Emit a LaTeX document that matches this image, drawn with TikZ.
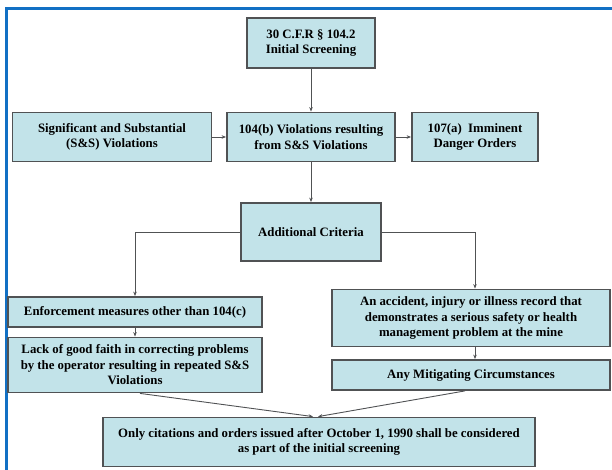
\documentclass[tikz,border=0pt]{standalone}
\usepackage{fontspec}
\setmainfont{Liberation Serif}
\usetikzlibrary{arrows.meta}

\definecolor{boxfill}{RGB}{194,227,233}
\definecolor{boxline}{RGB}{80,82,84}
\definecolor{frameblue}{RGB}{18,112,196}

\tikzset{
  crit box/.style={draw=boxline, line width=1.8pt, fill=boxfill, align=center,
    font=\bfseries\fontsize{12.8}{15.5}\selectfont, inner sep=1pt},
  flow/.style={draw=boxline, line width=0.9pt, -{Stealth[length=4.5pt,width=3.5pt]}}
}

\begin{document}
\begin{tikzpicture}[x=1pt, y=-1pt]
\useasboundingbox (0,0) rectangle (612,470);
% frame
\draw[frameblue, line width=3pt] (6,470) -- (6,8.5) -- (612,8.5);

% boxes
\node[crit box, minimum width=128pt, minimum height=50pt] (screen) at (311,43)
  {30 C.F.R \S\ 104.2\\Initial Screening};
\node[crit box, minimum width=168pt, minimum height=49pt] (viol) at (311,137)
  {104(b) Violations resulting\\from S\&S Violations};
\node[crit box, minimum width=199pt, minimum height=49pt] (ss) at (112,137)
  {Significant and Substantial\\(S\&S) Violations};
\node[crit box, minimum width=126pt, minimum height=49pt] (danger) at (475,137)
  {107(a)\ \ Imminent\\Danger Orders};
\node[crit box, minimum width=140pt, minimum height=58pt] (crit) at (311,232)
  {Additional Criteria};
\node[crit box, minimum width=254pt, minimum height=30pt] (enf) at (135,312)
  {Enforcement measures other than 104(c)};
\node[crit box, minimum width=254pt, minimum height=55pt] (lack) at (135,365)
  {Lack of good faith in correcting problems\\by the operator resulting in repeated S\&S\\Violations};
\node[crit box, minimum width=278pt, minimum height=57pt] (acc) at (471,318)
  {An accident, injury or illness record that\\demonstrates a serious safety or health\\management problem at the mine};
\node[crit box, minimum width=278pt, minimum height=30pt] (mit) at (471,375)
  {Any Mitigating Circumstances};
\node[crit box, minimum width=432pt, minimum height=49pt] (final) at (319,442)
  {Only citations and orders issued after October 1, 1990 shall be considered\\as part of the initial screening};

% connectors
\draw[flow] (screen) -- (viol);
\draw[flow] (ss) -- (viol);
\draw[flow] (viol) -- (danger);
\draw[flow] (viol) -- (crit);
\draw[flow] (crit.west) -| (enf.north);
\draw[flow] (crit.east) -| ([xshift=4pt]acc.north);
\draw[flow] (enf) -- (lack);
\draw[flow] ([xshift=4pt]acc.south) -- ([xshift=4pt]mit.north);
\draw[flow] ([xshift=5pt]lack.south) -- ([xshift=-6pt]final.north);
\draw[flow] ([xshift=-6pt]mit.south) -- ([xshift=-1pt]final.north);
\end{tikzpicture}
\end{document}
